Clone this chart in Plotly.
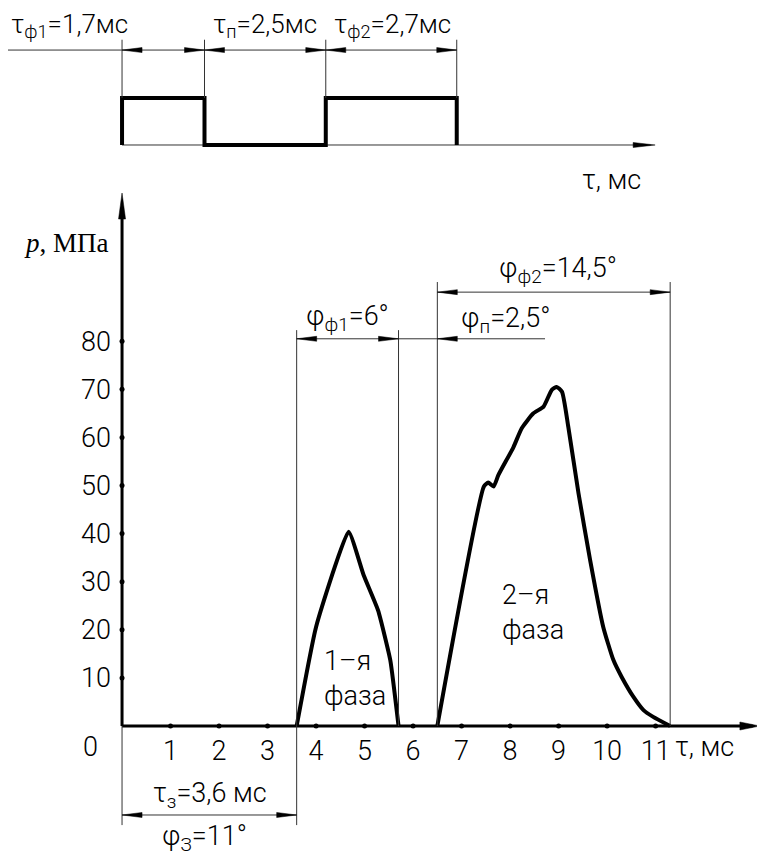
import plotly.graph_objects as go

# ---------------- data ----------------
# control pulse (top diagram)
pulse_t = [0, 0, 1.7, 1.7, 4.2, 4.2, 6.9, 6.9]
pulse_level = [0, 1, 1, 0, 0, 1, 1, 0]
pulse_marks = [0, 1.7, 4.2, 6.9]
pulse_labels = ["τ<sub>ф1</sub>=1,7мс", "τ<sub>п</sub>=2,5мс", "τ<sub>ф2</sub>=2,7мс"]

# pressure curve, phase 1 and phase 2
phase1_t = [3.6, 4.0, 4.67, 4.98, 5.28, 5.53, 5.7]
phase1_p = [0, 20.6, 40.4, 31.4, 24.0, 13.7, 0]
phase2_t = [6.5, 7.46, 7.55, 7.66, 7.76, 8.07, 8.24, 8.48, 8.69, 8.86, 8.96, 9.07,
            9.2, 9.41, 9.65, 9.92, 10.13, 10.3, 10.54, 10.75, 10.95, 11.3]
phase2_p = [0, 49.8, 50.6, 49.8, 52.2, 58.0, 61.9, 65.0, 66.4, 69.9, 70.5, 69.5,
            62.2, 48.4, 34.5, 20.6, 13.7, 10.2, 6.1, 3.3, 1.9, 0]

x_ticks = list(range(1, 12))
y_ticks = list(range(10, 90, 10))

# phase boundaries (ms) used for dimension lines
t_start1, t_end1, t_start2, t_end2 = 3.6, 5.7, 6.5, 11.3

FONT = "Roboto, Liberation Sans Narrow, sans-serif"
WEIGHT = 300
INK = "black"
THIN = "#333333"

fig = go.Figure()

# top pulse baseline (thin) and pulse (thick)
fig.add_trace(go.Scatter(x=[0, 10.9], y=[0, 0], yaxis="y2", mode="lines",
                         line=dict(color=THIN, width=1), hoverinfo="skip"))
fig.add_trace(go.Scatter(x=pulse_t, y=pulse_level, yaxis="y2", mode="lines",
                         line=dict(color=INK, width=4), hoverinfo="skip"))

# main axes lines
fig.add_trace(go.Scatter(x=[0, 13.0], y=[0, 0], mode="lines",
                         line=dict(color=INK, width=3), hoverinfo="skip"))
fig.add_trace(go.Scatter(x=[0, 0], y=[0, 106], mode="lines",
                         line=dict(color=INK, width=3), hoverinfo="skip"))

# pressure curves
fig.add_trace(go.Scatter(x=phase1_t, y=phase1_p, mode="lines",
                         line=dict(color=INK, width=4, shape="spline", smoothing=0.4),
                         hoverinfo="skip"))
fig.add_trace(go.Scatter(x=phase2_t, y=phase2_p, mode="lines",
                         line=dict(color=INK, width=4, shape="spline", smoothing=0.5),
                         hoverinfo="skip"))

# tick dots
fig.add_trace(go.Scatter(x=x_ticks, y=[0] * len(x_ticks), mode="markers",
                         marker=dict(color=INK, size=5), hoverinfo="skip"))
fig.add_trace(go.Scatter(x=[0] * len(y_ticks), y=y_ticks, mode="markers",
                         marker=dict(color=INK, size=5), hoverinfo="skip"))

shapes = []
annotations = []


def vline(x, y0, y1, yref="y"):
    shapes.append(dict(type="line", xref="x", yref=yref, x0=x, x1=x, y0=y0, y1=y1,
                       line=dict(color=THIN, width=1)))


def hline(x0, x1, y, yref="y", width=1, color=THIN):
    shapes.append(dict(type="line", xref="x", yref=yref, x0=x0, x1=x1, y0=y, y1=y,
                       line=dict(color=color, width=width)))


def arrow(x, y, direction, yref="y", length=20, half=2.5):
    if direction == "right":
        path = f"M0,0 L{-length},{half} L{-length},{-half} Z"
    elif direction == "left":
        path = f"M0,0 L{length},{half} L{length},{-half} Z"
    else:  # up
        path = f"M0,0 L{-half},{-length} L{half},{-length} Z"
    shapes.append(dict(type="path", xref="x", yref=yref, xsizemode="pixel",
                       ysizemode="pixel", xanchor=x, yanchor=y, path=path,
                       fillcolor=INK, line=dict(color=INK, width=0.5)))


def text(x, y, s, yref="y", size=27, xanchor="center", family=FONT, align="center",
         weight=WEIGHT):
    annotations.append(dict(x=x, y=y, xref="x", yref=yref, text=s, showarrow=False,
                            xanchor=xanchor, yanchor="middle", align=align,
                            font=dict(family=family, size=size, color=INK, weight=weight)))


# ---- top diagram dimensions ----
dim_y2 = 2.02
hline(-2.4, pulse_marks[-1], dim_y2, yref="y2")
for m in pulse_marks:
    vline(m, 2.24, 1.0, yref="y2")
for a, b in zip(pulse_marks[:-1], pulse_marks[1:]):
    arrow(a, dim_y2, "left", yref="y2")
    arrow(b, dim_y2, "right", yref="y2")
arrow(10.99, 0, "right", yref="y2", length=22, half=2.5)
text(-2.33, 2.55, pulse_labels[0], yref="y2", size=26, xanchor="left")
text(2.95, 2.55, pulse_labels[1], yref="y2", size=26)
text(5.57, 2.55, pulse_labels[2], yref="y2", size=26)
text(10.1, -0.75, "τ, мс", yref="y2")

# ---- main chart dimensions ----
# phase 2 extent
for xb in (t_start2, t_end2):
    vline(xb, 0, 92.3)
hline(t_start2, t_end2, 90.2)
arrow(t_start2, 90.2, "left")
arrow(t_end2, 90.2, "right")
text(8.99, 94.8, "φ<sub>ф2</sub>=14,5°")

# phase 1 extent and pause
for xb in (t_start1, t_end1):
    vline(xb, 0, 82.3)
hline(t_start1, 8.72, 80.5)
arrow(t_start1, 80.5, "left")
arrow(t_end1, 80.5, "right")
arrow(t_start2, 80.5, "left")
text(4.64, 84.8, "φ<sub>ф1</sub>=6°")
text(7.9, 84.4, "φ<sub>п</sub>=2,5°")

# delay
vline(0, 0, -20.6)
vline(t_start1, 0, -20.6)
hline(0, t_start1, -18.5)
arrow(0, -18.5, "left")
arrow(t_start1, -18.5, "right")
text(1.81, -14.3, "τ<sub>з</sub>=3,6 мс")
text(1.71, -23.3, "φ<sub>З</sub>=11°")

# axis arrows
arrow(13.15, 0, "right", length=20, half=4)
arrow(0, 110.8, "up", length=26, half=3.5)

# labels
text(4.12, 9.8, "1–я<br>фаза", xanchor="left", align="left")
text(7.79, 23.5, "2–я<br>фаза", xanchor="left", align="left")
text(11.36, -4.4, "τ, мс", xanchor="left")
text(-0.66, -4.4, "0")
text(-1.15, 100.4, "<i>p</i>, МПа", family="Liberation Serif, Times New Roman, serif",
     size=27, weight="normal")

tickfont = dict(family=FONT, size=27, color=INK, weight=WEIGHT)
fig.update_layout(
    width=765, height=856,
    margin=dict(l=0, r=0, t=0, b=0),
    paper_bgcolor="white", plot_bgcolor="white",
    showlegend=False,
    shapes=shapes, annotations=annotations,
    xaxis=dict(range=[-2.351, 13.42], showgrid=False, zeroline=False, showline=False,
               tickmode="array", tickvals=x_ticks, ticks="", tickfont=tickfont,
               ticklabelstandoff=6,
               anchor="free", position=(864 - 726) / 856, automargin=False),
    yaxis=dict(range=[-28.69, 149.27], showgrid=False, zeroline=False, showline=False,
               tickmode="array", tickvals=y_ticks, ticks="", tickfont=tickfont,
               ticklabelstandoff=11,
               anchor="free", position=(122 - 8) / 765, automargin=False),
    yaxis2=dict(range=[-15.30, 2.915], overlaying="y", visible=False),
)

fig.write_html("out.html")
